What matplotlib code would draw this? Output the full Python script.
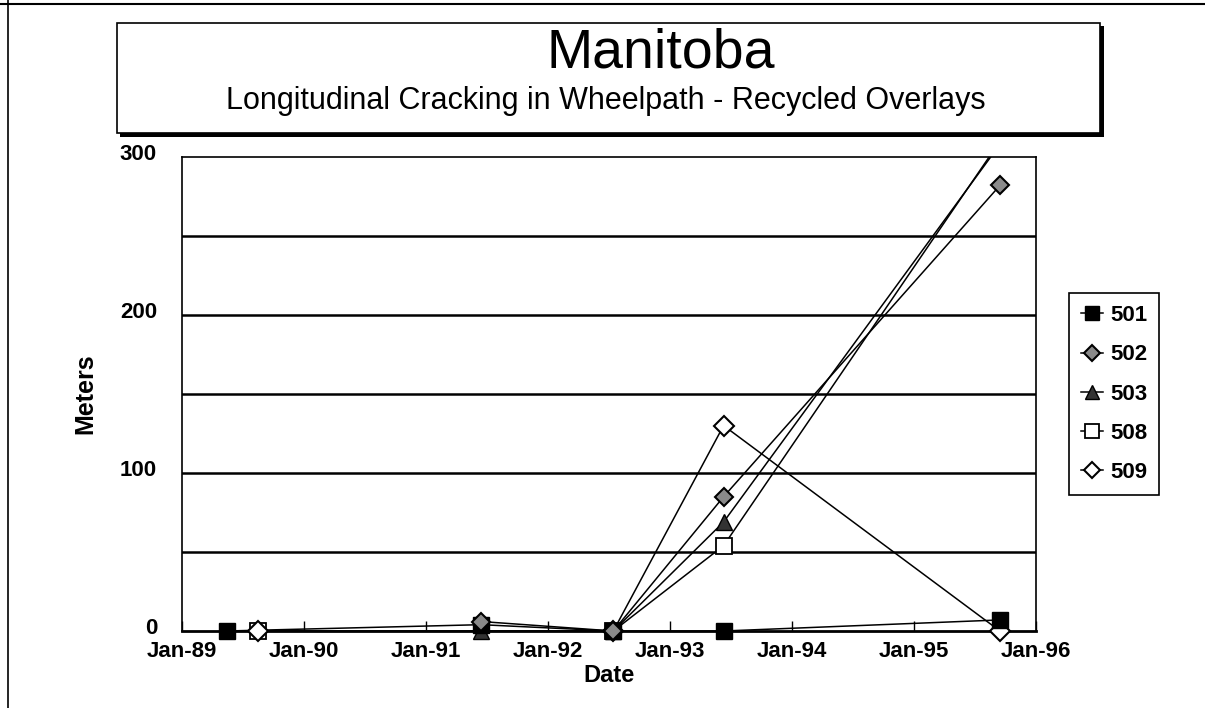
import numpy as np
import matplotlib.pyplot as plt
import matplotlib.dates as mdates
import matplotlib.transforms as mtransforms
from matplotlib.patches import Rectangle
from matplotlib.lines import Line2D
from datetime import datetime

plt.rcParams['font.family'] = ['Liberation Sans', 'DejaVu Sans']

# data (meters of longitudinal cracking in wheelpath)
dates_501 = ["1989-05-15", "1991-06-15", "1992-07-15", "1993-06-10", "1995-09-15"]
vals_501 = [0, 4, 0, 0, 7]
dates_502 = ["1991-06-15", "1992-07-15", "1993-06-10", "1995-09-15"]
vals_502 = [6, 0, 85, 282]
dates_503 = ["1991-06-15", "1992-07-15", "1993-06-10", "1995-09-15"]
vals_503 = [0, 0, 69, 308]
dates_508 = ["1989-08-15", "1992-07-15", "1993-06-10", "1995-09-15"]
vals_508 = [0, 0, 54, 310]
dates_509 = ["1989-08-15", "1992-07-15", "1993-06-10", "1995-09-15"]
vals_509 = [0, 0, 130, 0]

sections = ["501", "502", "503", "508", "509"]
years = list(range(1989, 1997))

def to_dt(lst):
    return [datetime.strptime(d, "%Y-%m-%d") for d in lst]

W, H = 1205, 708
fig = plt.figure(figsize=(12.05, 7.08), dpi=100)
ax = fig.add_axes([182/W, 1-631/H, (1036-182)/W, (631-157)/H])

#marker style for each section
styles = {
    "501": dict(marker="s", mfc="black", mec="black", ms=12),
    "502": dict(marker="D", mfc="#8a8a8a", mec="black", ms=9, mew=1.5),
    "503": dict(marker="^", mfc="#333333", mec="black", ms=12),
    "508": dict(marker="s", mfc="white", mec="black", ms=12, mew=1.3),
    "509": dict(marker="D", mfc="white", mec="black", ms=10, mew=1.5),
}
# 501 squares sit on top of the others in the original
marker_z = {"501": 6, "502": 7, "503": 4, "508": 4, "509": 5}
series = {
    "501": (dates_501, vals_501),
    "502": (dates_502, vals_502),
    "503": (dates_503, vals_503),
    "508": (dates_508, vals_508),
    "509": (dates_509, vals_509),
}
handles = []
for s in sections:
    d, v = series[s]
    x = to_dt(d)
    v = np.array(v, dtype=float)
    # line is clipped at the plot area, markers at 0 must not be cut in half
    ax.plot(x, v, color="black", lw=1.1, zorder=3)
    inside = v <= 300
    ax.plot(np.array(x)[inside], v[inside], ls="none", clip_on=False,
            zorder=marker_z[s], **styles[s])
    h = Line2D([], [], color="black", lw=1.1, **styles[s])
    h.set_label(s)
    handles.append(h)

ax.set_xlim(datetime(1989, 1, 1), datetime(1996, 1, 1))
ax.set_ylim(0, 300)
ax.set_xticks([datetime(y, 1, 1) for y in years])
ax.xaxis.set_major_formatter(mdates.DateFormatter("%b-%y"))
ax.set_yticks([0, 100, 200, 300])
for g in [50, 100, 150, 200, 250]:
    ax.axhline(g, color="black", lw=1.8, zorder=1)

ax.tick_params(axis="x", direction="in", length=7, width=1, labelsize=16, pad=7)
ax.tick_params(axis="y", length=0, labelsize=16, pad=18)
shift_up = mtransforms.ScaledTranslation(0, 5/100, fig.dpi_scale_trans)
for lab in ax.get_yticklabels():
    lab.set_fontweight("bold")
    lab.set_transform(lab.get_transform() + shift_up)
for lab in ax.get_xticklabels():
    lab.set_fontweight("bold")
for sp in ax.spines.values():
    sp.set_linewidth(1.2)
ax.spines["bottom"].set_linewidth(2)

ax.set_xlabel("Date", fontsize=17, fontweight="bold", labelpad=2)
ax.set_ylabel("Meters", fontsize=18, fontweight="bold", labelpad=16)

# title box with shadow
def fig_rect(x0, y0, x1, y1, **kw):
    return Rectangle((x0/W, 1-y1/H), (x1-x0)/W, (y1-y0)/H, transform=fig.transFigure, **kw)

fig.add_artist(fig_rect(120, 26, 1104, 137, facecolor="black", edgecolor="none", zorder=1))
fig.add_artist(fig_rect(117, 23, 1100, 133, facecolor="white", edgecolor="black", lw=1.2, zorder=2))
fig.text(661/W, 1-53/H, "Manitoba", ha="center", va="center", fontsize=40, zorder=3)
fig.text(606/W, 1-101/H, "Longitudinal Cracking in Wheelpath - Recycled Overlays",
         ha="center", va="center", fontsize=22, zorder=3)

# legend box with shadow
fig.add_artist(fig_rect(1072, 296, 1158, 492, facecolor="black", edgecolor="none", zorder=1))
leg = fig.legend(handles=handles, loc="upper left", bbox_to_anchor=(1069/W, 1-293/H),
                 frameon=True, fancybox=False, framealpha=1, edgecolor="black",
                 prop=dict(size=16, weight="bold"), handlelength=1.0, handletextpad=0.3,
                 labelspacing=0.82, borderpad=0.55, borderaxespad=0, markerscale=0.85)
leg.get_frame().set_linewidth(1.2)
leg.set_zorder(2)

# page border lines
fig.add_artist(Line2D([0, 1], [1-4/H, 1-4/H], color="black", lw=1.5, transform=fig.transFigure))
fig.add_artist(Line2D([8/W, 8/W], [0, 1], color="black", lw=1.2, transform=fig.transFigure))

fig.savefig("out.png", dpi=100)
